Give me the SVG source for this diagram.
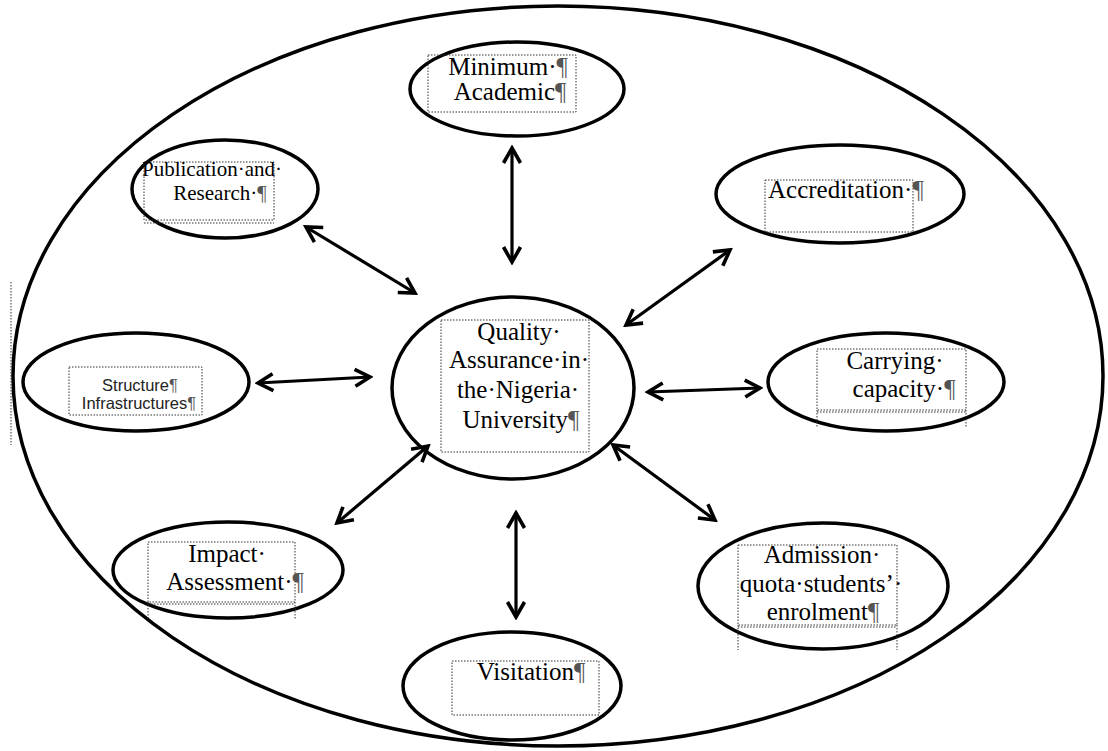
<svg xmlns="http://www.w3.org/2000/svg" width="1108" height="751" viewBox="0 0 1108 751">
<style>
.ring{fill:none;stroke:#000;stroke-width:3.5}
.box{fill:none;stroke:#333;stroke-width:1;stroke-dasharray:1.5 1.5}
.t{font-family:"Liberation Serif","Times New Roman",serif;font-size:25px;fill:#000;text-anchor:middle}
.s{font-family:"Liberation Sans",Arial,sans-serif;font-size:16.5px;fill:#222;text-anchor:middle}
.pm{fill:#555}
.arr{stroke:#000;stroke-width:3.2;fill:none;marker-start:url(#ah);marker-end:url(#ah)}
</style>
<defs>
<marker id="ah" markerUnits="userSpaceOnUse" viewBox="0 0 22 22" markerWidth="22" markerHeight="22" refX="19" refY="11" orient="auto-start-reverse">
<path d="M4,2.5 L19,11 L4,19.5" fill="none" stroke="#000" stroke-width="3.6" stroke-linejoin="miter"/>
</marker>
</defs>
<rect width="1108" height="751" fill="#fff"/>
<g id="outer">
<ellipse class="ring" cx="558" cy="376" rx="545" ry="370"/>
<line class="box" x1="11" y1="282" x2="11" y2="445"/>
</g>
<g id="connectors">
<line class="arr" x1="512" y1="148" x2="512" y2="262"/>
<line class="arr" x1="306" y1="227" x2="415" y2="293"/>
<line class="arr" x1="730" y1="250" x2="626" y2="325"/>
<line class="arr" x1="258" y1="383" x2="370" y2="377"/>
<line class="arr" x1="648" y1="392" x2="760" y2="388"/>
<line class="arr" x1="337" y1="523" x2="428" y2="446"/>
<line class="arr" x1="613" y1="445" x2="715" y2="520"/>
<line class="arr" x1="516" y1="513" x2="516" y2="617"/>
</g>
<g id="center">
<ellipse class="ring" cx="513" cy="388" rx="121" ry="91"/>
<rect class="box" x="441" y="320" width="148" height="132"/>
<text class="t" x="519" y="340">Quality·</text>
<text class="t" x="519" y="368">Assurance·in·</text>
<text class="t" x="518" y="398">the·Nigeria·</text>
<text class="t" x="521" y="428">University<tspan class="pm">¶</tspan></text>
</g>
<g id="minimum">
<ellipse class="ring" cx="517" cy="89" rx="107" ry="47"/>
<rect class="box" x="428" y="55" width="148" height="57"/>
<text class="t" x="508" y="75">Minimum·<tspan class="pm">¶</tspan></text>
<text class="t" x="510" y="100">Academic<tspan class="pm">¶</tspan></text>
</g>
<g id="publication">
<ellipse class="ring" cx="225" cy="189" rx="93" ry="49"/>
<rect class="box" x="144" y="162" width="130" height="58"/>
<line class="box" x1="144" y1="223" x2="274" y2="223"/>
<text class="t" style="font-size:21px" x="212" y="176">Publication·and·</text>
<text class="t" style="font-size:21px" x="220" y="200">Research·<tspan class="pm">¶</tspan></text>
</g>
<g id="accreditation">
<ellipse class="ring" cx="840" cy="194" rx="124" ry="49"/>
<rect class="box" x="765" y="180" width="148" height="52"/>
<text class="t" style="text-anchor:start" x="768" y="198">Accreditation·<tspan class="pm">¶</tspan></text>
</g>
<g id="structure">
<ellipse class="ring" cx="136" cy="382" rx="113" ry="49"/>
<rect class="box" x="69" y="367" width="133" height="48"/>
<text class="s" x="140" y="391">Structure<tspan class="pm">¶</tspan></text>
<text class="s" x="139" y="409">Infrastructures<tspan class="pm">¶</tspan></text>
</g>
<g id="carrying">
<ellipse class="ring" cx="886" cy="382" rx="118" ry="49"/>
<rect class="box" x="817" y="349" width="149" height="61"/>
<path class="box" d="M817,412 H966 M817,410 V427 M966,410 V427"/>
<text class="t" x="895" y="369">Carrying·</text>
<text class="t" x="904" y="397">capacity·<tspan class="pm">¶</tspan></text>
</g>
<g id="impact">
<ellipse class="ring" cx="228" cy="570" rx="115" ry="48"/>
<rect class="box" x="148" y="542" width="147" height="60"/>
<path class="box" d="M148,604 H295 M148,602 V620 M295,602 V620"/>
<text class="t" x="227" y="562">Impact·</text>
<text class="t" x="235" y="590">Assessment·<tspan class="pm">¶</tspan></text>
</g>
<g id="admission">
<ellipse class="ring" cx="823" cy="586" rx="125" ry="63"/>
<rect class="box" x="738" y="545" width="159" height="80"/>
<path class="box" d="M738,627 H897 M738,625 V650 M897,625 V650"/>
<text class="t" x="822" y="563">Admission·</text>
<text class="t" x="821" y="592">quota·students’·</text>
<text class="t" x="823" y="620">enrolment<tspan class="pm">¶</tspan></text>
</g>
<g id="visitation">
<ellipse class="ring" cx="512" cy="686" rx="109" ry="54"/>
<rect class="box" x="452" y="661" width="147" height="54"/>
<text class="t" x="531" y="680">Visitation<tspan class="pm">¶</tspan></text>
</g>
</svg>
